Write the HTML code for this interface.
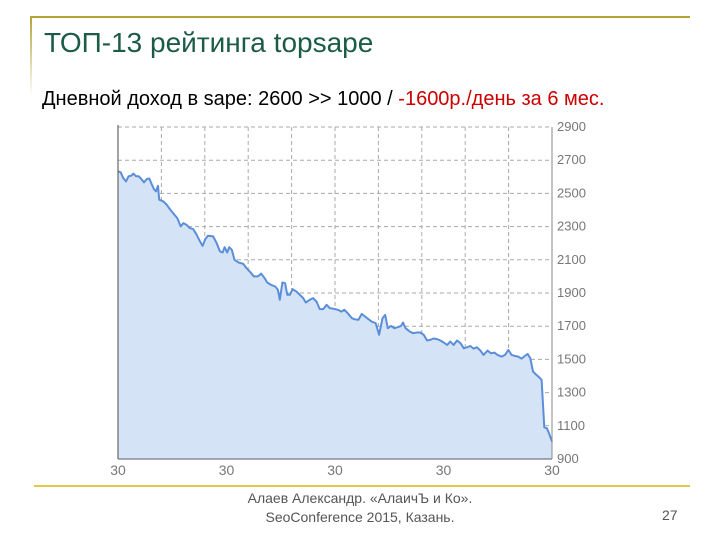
<!DOCTYPE html>
<html><head><meta charset="utf-8">
<style>
body{margin:0;background:#fff;}
#slide{position:relative;width:720px;height:540px;overflow:hidden;font-family:"Liberation Sans","DejaVu Sans",sans-serif;}
</style></head>
<body>
<div id="slide">
<div style="position:absolute;left:30px;top:16px;width:660px;height:2px;background:#b5a23a"></div>
<div style="position:absolute;left:30px;top:16px;width:2px;height:80px;background:linear-gradient(#b5a23a,#fff)"></div>
<div style="position:absolute;left:44px;top:27px;font-size:28px;color:#1b5b47">ТОП-13 рейтинга topsape</div>
<div style="position:absolute;left:42px;top:88px;font-size:20px;color:#000">Дневной доход в sape: 2600 &gt;&gt; 1000 / <span style="color:#cc0000">-1600р./день за 6 мес.</span></div>
<svg id="chart" width="720" height="540" style="position:absolute;left:0;top:0"></svg>
<div style="position:absolute;left:34px;top:485px;width:656px;height:2px;background:#e6c84a"></div>
<div style="position:absolute;left:180px;top:489px;width:360px;text-align:center;font-size:14px;line-height:19px;color:#555">Алаев Александр. «АлаичЪ и Ко».<br>SeoConference 2015, Казань.</div>
<div style="position:absolute;left:662px;top:507px;font-size:14px;color:#555">27</div>
</div>
<script>
const days=[0,1.1,2.2,3.3,4.4,5.5,6.4,7.5,8.6,9.7,10.8,11.9,13,14.1,14.9,15.7,16.6,17.1,18.8,20.2,21.5,22.9,24.6,26,27.1,28.4,29.8,31.2,32.6,34,35.1,36.2,37.3,39.5,40.9,42.3,43.4,44.2,45.3,46.1,47.2,48.3,50,51.9,53.3,55,56.3,58,59.4,60.8,61.9,63.5,65.2,66.3,67.1,68.2,69.3,70.2,71.3,72.4,74,75.4,76.8,77.9,79.5,80.9,82.3,83.7,85.1,86.5,87.8,89.5,91.2,92.6,93.9,95.3,97,98.1,99.7,101.1,102.5,103.9,105.2,106.9,108.3,109.7,110.8,111.9,113.2,114.6,116,117.4,118.2,119.3,121,122.4,124,125.4,126.8,128.2,129.5,130.9,132.3,133.7,135.1,136.5,137.8,139.2,140.6,142,143.4,144.7,146.1,147.5,148.9,150.3,151.6,153.3,154.7,156.1,157.4,159.1,160.5,161.9,163.2,164.6,166,167.4,168.8,169.9,171,172.1,173.5,175.1,175.7,176.8,177.9,179,180];
const income=[2633,2627,2592,2572,2603,2607,2619,2603,2603,2586,2566,2586,2590,2552,2526,2512,2546,2462,2452,2432,2406,2381,2351,2301,2321,2311,2291,2285,2251,2211,2184,2225,2245,2241,2201,2150,2144,2176,2144,2176,2160,2100,2084,2076,2050,2024,2000,2000,2016,1990,1963,1949,1939,1919,1859,1963,1959,1889,1889,1923,1909,1889,1869,1843,1859,1869,1849,1803,1803,1829,1809,1805,1799,1788,1799,1778,1748,1742,1738,1774,1758,1742,1728,1718,1648,1748,1768,1688,1702,1688,1694,1702,1722,1688,1668,1658,1662,1662,1648,1614,1618,1626,1622,1614,1602,1587,1608,1587,1614,1598,1567,1573,1581,1565,1573,1553,1527,1553,1537,1541,1527,1517,1527,1557,1527,1521,1517,1505,1521,1533,1507,1427,1407,1386,1376,1091,1085,1045,1005];
const yTicks=[900,1100,1300,1500,1700,1900,2100,2300,2500,2700,2900];
const xTickLabels=["30","30","30","30","30"];
const X0=118,X1=552,Y0=459,Y1=127,XMAX=180,YMIN=900,YMAX=2900;
const sx=d=>X0+(d/XMAX)*(X1-X0);
const sy=v=>Y0-(v-YMIN)/(YMAX-YMIN)*(Y0-Y1);
const svg=document.getElementById('chart');const NS='http://www.w3.org/2000/svg';
function mk(t,a){const e=document.createElementNS(NS,t);for(const k in a)e.setAttribute(k,a[k]);svg.appendChild(e);return e;}
for(let i=0;i<=10;i++){const x=X0+i*(X1-X0)/10;
const g=mk('line',{x1:x,x2:x,y1:Y1,y2:Y0,stroke:'#aaa','stroke-dasharray':'4,3','stroke-width':1});

}
yTicks.forEach(v=>{const y=sy(v);
const g=mk('line',{x1:X0,x2:X1,y1:y,y2:y,stroke:'#aaa','stroke-dasharray':'4,3','stroke-width':1});


const t=mk('text',{x:X1+5,y:y+4,'font-size':13,fill:'#777','font-family':'Liberation Sans, sans-serif'});t.textContent=v;

});
let pts=days.map((d,i)=>sx(d).toFixed(1)+','+sy(income[i]).toFixed(1));
const area=mk('path',{d:'M'+sx(days[0])+','+Y0+' L'+pts.join(' L')+' L'+sx(days[days.length-1])+','+Y0+' Z',fill:'#d5e3f7'});


const line=mk('polyline',{points:pts.join(' '),fill:'none',stroke:'#5b8ed8','stroke-width':2,'stroke-linejoin':'round'});


const ax=mk('line',{x1:X0,x2:X0,y1:Y1-2,y2:Y0,stroke:'#666','stroke-width':1.2});


const bx=mk('line',{x1:X0,x2:X1,y1:Y0,y2:Y0,stroke:'#778','stroke-width':1.2});


const rx=mk('line',{x1:X1,x2:X1,y1:Y1,y2:Y0,stroke:'#888','stroke-width':1});


xTickLabels.forEach((s,i)=>{const t=mk('text',{x:X0+i*(X1-X0)/4,y:475,'font-size':14,fill:'#777','text-anchor':'middle','font-family':'Liberation Sans, sans-serif'});t.textContent=s;

});
</script>
</body></html>
